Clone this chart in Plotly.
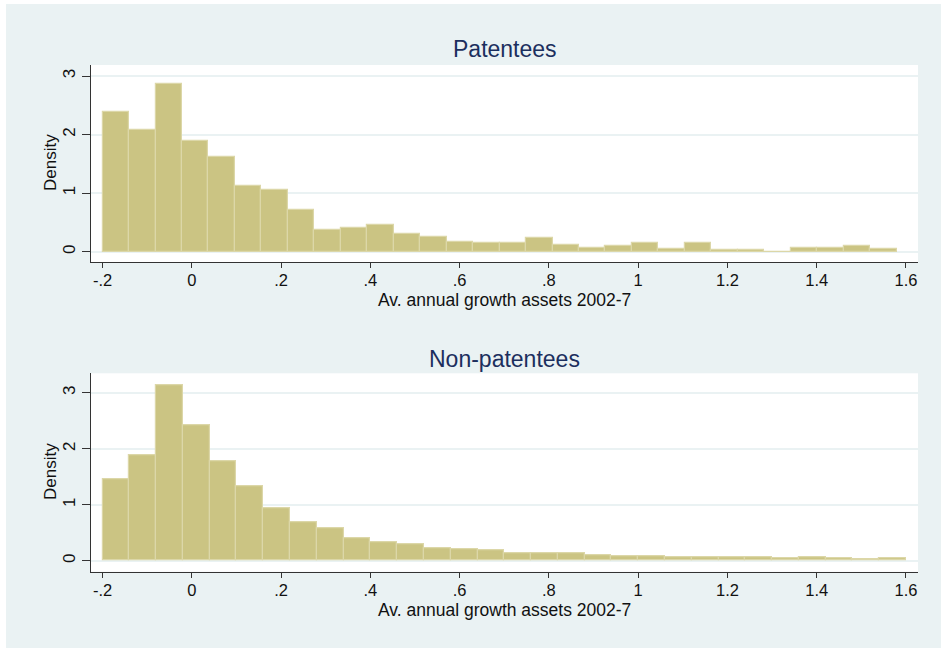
import plotly.graph_objects as go

# ---- data ----
top_title = "Patentees"
bottom_title = "Non-patentees"
x_title = "Av. annual growth assets 2002-7"
y_title = "Density"

top_bin_start = -0.2
top_bin_end = 1.579
top_density = [2.38, 2.08, 2.87, 1.89, 1.62, 1.12, 1.05, 0.72, 0.37, 0.40,
               0.45, 0.30, 0.25, 0.16, 0.15, 0.15, 0.23, 0.11, 0.07, 0.10,
               0.14, 0.04, 0.14, 0.035, 0.035, 0.0, 0.06, 0.06, 0.10, 0.04]

bottom_bin_start = -0.2
bottom_bin_end = 1.6
bottom_density = [1.46, 1.88, 3.14, 2.41, 1.77, 1.32, 0.93, 0.68, 0.57, 0.40,
                  0.33, 0.30, 0.22, 0.20, 0.18, 0.14, 0.125, 0.125, 0.095, 0.077,
                  0.083, 0.06, 0.054, 0.06, 0.054, 0.042, 0.054, 0.042, 0.03, 0.048]

x_tickvals = [-0.2, 0, 0.2, 0.4, 0.6, 0.8, 1.0, 1.2, 1.4, 1.6]
x_ticktext = ["-.2", "0", ".2", ".4", ".6", ".8", "1", "1.2", "1.4", "1.6"]
y_tickvals = [0, 1, 2, 3]
y_ticktext = ["0", "1", "2", "3"]

# ---- styling ----
W, H = 941, 648
BG = "#EAF2F3"
FILL = "#CBC483"
EDGE = "#DCD7A8"
TITLE_COLOR = "#1c2f5e"
FONT = "Liberation Sans, Arial, sans-serif"


def bars(start, end, dens, xa, ya):
    n = len(dens)
    w = (end - start) / n
    xs = [start + (i + 0.5) * w for i in range(n)]
    return go.Bar(x=xs, y=dens, width=w, xaxis=xa, yaxis=ya,
                  marker=dict(color=FILL, line=dict(color=EDGE, width=1.2)),
                  showlegend=False, hoverinfo="x+y")


fig = go.Figure()
fig.add_trace(bars(top_bin_start, top_bin_end, top_density, "x", "y"))
fig.add_trace(bars(bottom_bin_start, bottom_bin_end, bottom_density, "x2", "y2"))

x0p, x1p = 91 / W, 918 / W
top_dom = [(H - 262) / H, (H - 65) / H]
bot_dom = [(H - 571.7) / H, (H - 373.3) / H]

xaxis_common = dict(
    range=[-0.226, 1.627], tickmode="array", tickvals=x_tickvals, ticktext=x_ticktext,
    ticks="outside", ticklen=5, tickcolor="#333", tickwidth=1, ticklabelstandoff=-2,
    showline=True, linecolor="#333", linewidth=1, showgrid=False, zeroline=False,
    tickfont=dict(family=FONT, size=16.5, color="#111"), domain=[x0p, x1p], fixedrange=True,
)
yaxis_common = dict(
    tickmode="array", tickvals=y_tickvals, ticktext=y_ticktext, tickangle=-90,
    ticks="outside", ticklen=8, tickcolor="#333", tickwidth=1,
    showline=True, linecolor="#333", linewidth=1,
    showgrid=True, gridcolor=BG, gridwidth=1.5, zeroline=False,
    tickfont=dict(family=FONT, size=17, color="#111"), fixedrange=True,
)

fig.update_layout(
    width=W, height=H, margin=dict(l=0, r=0, t=0, b=0),
    paper_bgcolor=BG, plot_bgcolor="white", bargap=0,
    xaxis=dict(xaxis_common, anchor="y"),
    yaxis=dict(yaxis_common, range=[-0.176, 3.188], domain=top_dom, anchor="x"),
    xaxis2=dict(xaxis_common, anchor="y2"),
    yaxis2=dict(yaxis_common, range=[-0.196, 3.346], domain=bot_dom, anchor="x2"),
    font=dict(family=FONT),
)

cx = (91 + 918) / 2 / W
ann = [
    dict(text=top_title, x=cx, y=(H - 48.5) / H, size=23, color=TITLE_COLOR, angle=0),
    dict(text=bottom_title, x=cx, y=(H - 358.5) / H, size=23, color=TITLE_COLOR, angle=0),
    dict(text=x_title, x=cx, y=(H - 300) / H, size=17.5, color="#111", angle=0),
    dict(text=x_title, x=cx, y=(H - 610) / H, size=17.5, color="#111", angle=0),
    dict(text=y_title, x=50 / W, y=(H - 163) / H, size=17, color="#111", angle=-90),
    dict(text=y_title, x=50 / W, y=(H - 472) / H, size=17, color="#111", angle=-90),
]
for a in ann:
    fig.add_annotation(text=a["text"], x=a["x"], y=a["y"], xref="paper", yref="paper",
                       xanchor="center", yanchor="middle", showarrow=False, textangle=a["angle"],
                       font=dict(family=FONT, size=a["size"], color=a["color"]))

# thin white border at top and left of the picture
fig.add_shape(type="rect", xref="paper", yref="paper", x0=0, x1=1, y0=(H - 4) / H, y1=1,
              fillcolor="white", line=dict(width=0), layer="above")
fig.add_shape(type="rect", xref="paper", yref="paper", x0=0, x1=6 / W, y0=0, y1=1,
              fillcolor="white", line=dict(width=0), layer="above")

fig.write_html("out.html", config={"displayModeBar": False},
               post_script="document.body.style.margin='0';")
